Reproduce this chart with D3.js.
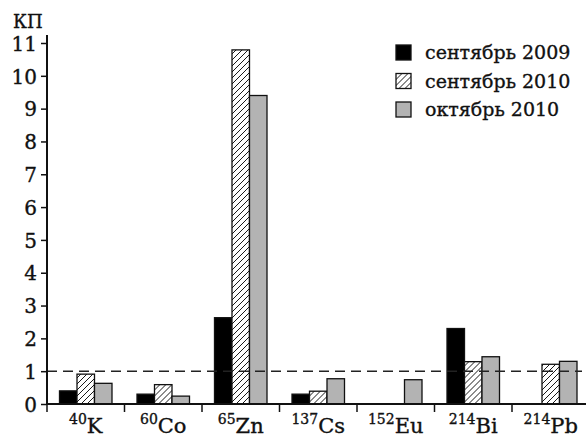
<!DOCTYPE html>
<html lang="ru">
<head>
<meta charset="UTF-8">
<title>КП</title>
<script src="https://cdn.jsdelivr.net/npm/d3@7"></script>
<style>
  body { margin: 0; background: #fff; }
  text { font-family: "DejaVu Serif", "Liberation Serif", serif; fill: #111; stroke: #111; stroke-width: 0.35; }
</style>
</head>
<body>
<svg id="chart" width="588" height="439"></svg>
<script>
// isotopes: mass number + symbol
const masses = ["40", "60", "65", "137", "152", "214", "214"];
const symbols = ["K", "Co", "Zn", "Cs", "Eu", "Bi", "Pb"];
const seriesNames = ["сентябрь 2009", "сентябрь 2010", "октябрь 2010"];
const sep2009 = [0.4, 0.3, 2.63, 0.3, 0, 2.3, 0];
const sep2010 = [0.91, 0.59, 10.79, 0.39, 0, 1.29, 1.21];
const oct2010 = [0.63, 0.24, 9.4, 0.77, 0.74, 1.44, 1.3];
const yTicks = [0, 1, 2, 3, 4, 5, 6, 7, 8, 9, 10, 11];
const threshold = 1;

const series = [sep2009, sep2010, oct2010];
const fills = ["#000", "url(#hatch)", "#b3b3b3"];

const svg = d3.select("#chart");

const defs = svg.append("defs");
const pat = defs.append("pattern")
    .attr("id", "hatch")
    .attr("patternUnits", "userSpaceOnUse")
    .attr("width", 6).attr("height", 6);
pat.append("rect").attr("width", 6).attr("height", 6).attr("fill", "#fff");
pat.append("path")
    .attr("d", "M-1,7 L7,-1 M-4,4 L4,-4 M2,10 L10,2")
    .attr("stroke", "#000").attr("stroke-width", 0.9);

const x0 = 47, yBottom = 404, yTop = 43;

const x = d3.scaleBand().domain(d3.range(symbols.length)).range([x0, x0 + 77.5 * 7]);
const xs = d3.scaleBand().domain(d3.range(3)).range([12.5, 77.5 - 12.5]);
const y = d3.scaleLinear().domain([0, 11]).range([yBottom, yTop]);

// bars
const groups = svg.append("g").selectAll("g")
    .data(symbols)
    .join("g")
    .attr("transform", (d, i) => `translate(${x(i)},0)`);

groups.selectAll("rect")
    .data((d, i) => series.map((s, k) => ({ k, v: s[i] })).filter(e => e.v > 0))
    .join("rect")
    .attr("x", e => xs(e.k))
    .attr("width", xs.bandwidth())
    .attr("y", e => y(e.v))
    .attr("height", e => y(0) - y(e.v))
    .attr("fill", e => fills[e.k])
    .attr("stroke", "#111")
    .attr("stroke-width", 1.3);

// threshold line
svg.append("line")
    .attr("x1", x0).attr("x2", 582)
    .attr("y1", y(threshold)).attr("y2", y(threshold))
    .attr("stroke", "#222").attr("stroke-width", 1.6)
    .attr("stroke-dasharray", "10,6");

// y axis
const yAxis = svg.append("g")
    .attr("transform", `translate(${x0},0)`)
    .call(d3.axisLeft(y).tickValues(yTicks).tickSize(6).tickPadding(4).tickFormat(d3.format("d")));
yAxis.select(".domain").attr("d", `M0,35V${yBottom}`).attr("stroke", "#111").attr("stroke-width", 2);
yAxis.selectAll(".tick line").attr("stroke", "#111").attr("stroke-width", 1.5);
yAxis.selectAll(".tick text").attr("font-size", 20).attr("dy", "0.36em")
    .style("font-family", "'DejaVu Serif', serif");

// x axis
const xAxisG = svg.append("g");
xAxisG.append("line")
    .attr("x1", x0).attr("x2", 586).attr("y1", yBottom).attr("y2", yBottom)
    .attr("stroke", "#111").attr("stroke-width", 2);
xAxisG.selectAll("line.tk")
    .data(d3.range(symbols.length))
    .join("line")
    .attr("class", "tk")
    .attr("x1", i => x(i)).attr("x2", i => x(i))
    .attr("y1", yBottom).attr("y2", yBottom + 8)
    .attr("stroke", "#111").attr("stroke-width", 1.5);

const lbl = xAxisG.selectAll("text")
    .data(symbols)
    .join("text")
    .attr("x", (d, i) => x(i) + x.bandwidth() / 2)
    .attr("y", 433)
    .attr("text-anchor", "middle")
    .attr("font-size", 21);
lbl.append("tspan").attr("font-size", 14).attr("dy", -9).text((d, i) => masses[i]);
lbl.append("tspan").attr("dy", 9).text(d => d);

// y label
svg.append("text").attr("x", 13).attr("y", 28).attr("font-size", 18).text("КП");

// legend
const leg = svg.append("g").selectAll("g")
    .data(seriesNames)
    .join("g")
    .attr("transform", (d, i) => `translate(396,${45 + i * 28.5})`);
leg.append("rect")
    .attr("width", 15).attr("height", 15)
    .attr("fill", (d, i) => fills[i])
    .attr("stroke", "#111").attr("stroke-width", 1.3);
leg.append("text")
    .attr("x", 29).attr("y", 14)
    .attr("font-size", 19)
    .text(d => d);
</script>
</body>
</html>
